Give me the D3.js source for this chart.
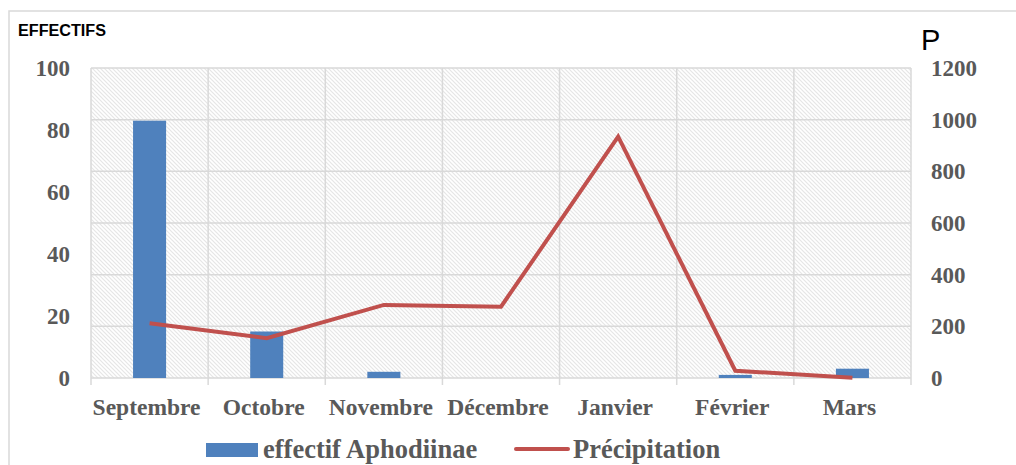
<!DOCTYPE html>
<html>
<head>
<meta charset="utf-8">
<script src="https://cdn.jsdelivr.net/npm/d3@7/dist/d3.min.js"></script>
<style>
  html, body { margin: 0; padding: 0; background: #fff; }
  svg { display: block; }
</style>
</head>
<body>
<script>
// Monthly counts of Aphodiinae and precipitation
const months = ["Septembre", "Octobre", "Novembre", "Décembre", "Janvier", "Février", "Mars"];
const effectif = [83, 15, 2, 0, 0, 1, 3];
const precipitation = [212, 154, 283, 276, 934, 28, 1];
const leftTicks = [0, 20, 40, 60, 80, 100];
const rightTicks = [0, 200, 400, 600, 800, 1000, 1200];

const W = 1016, H = 465;
const plot = { left: 91, right: 911, top: 68, bottom: 378 };

const svg = d3.select("body").append("svg").attr("width", W).attr("height", H);

// hatched plot background
const defs = svg.append("defs");
const pat = defs.append("pattern")
  .attr("id", "hatch").attr("patternUnits", "userSpaceOnUse")
  .attr("width", 4).attr("height", 4);
pat.append("rect").attr("width", 4).attr("height", 4).attr("fill", "#ffffff");
pat.append("path").attr("d", "M-1,-1 L5,5 M-1,3 L1,5 M3,-1 L5,1")
  .attr("stroke", "#e6e6e6").attr("stroke-width", 1.2);

// chart frame
svg.append("rect").attr("x", 9).attr("y", 11).attr("width", W).attr("height", H)
  .attr("fill", "none").attr("stroke", "#d9d9d9").attr("stroke-width", 1.5);

const x = d3.scaleBand().domain(months).range([plot.left, plot.right]).padding(0);
const yL = d3.scaleLinear().domain([0, 100]).range([plot.bottom, plot.top]);
const yR = d3.scaleLinear().domain([0, 1200]).range([plot.bottom, plot.top]);

svg.append("rect")
  .attr("x", plot.left).attr("y", plot.top)
  .attr("width", plot.right - plot.left).attr("height", plot.bottom - plot.top)
  .attr("fill", "url(#hatch)");

const gridColor = "#d9d9d9";
// horizontal gridlines follow the precipitation axis
svg.append("g").selectAll("line").data(rightTicks).join("line")
  .attr("x1", plot.left).attr("x2", plot.right)
  .attr("y1", d => yR(d)).attr("y2", d => yR(d))
  .attr("stroke", gridColor).attr("stroke-width", 1.5);

// vertical category separators with ticks below the axis
const bounds = months.map(m => x(m)).concat([plot.right]);
svg.append("g").selectAll("line").data(bounds).join("line")
  .attr("x1", d => d).attr("x2", d => d)
  .attr("y1", plot.top).attr("y2", plot.bottom + 7)
  .attr("stroke", gridColor).attr("stroke-width", 1.5);

// bars
const barW = x.bandwidth() * 0.282;
svg.append("g").selectAll("rect").data(effectif).join("rect")
  .attr("x", (d, i) => x(months[i]) + x.bandwidth() / 2 - barW / 2)
  .attr("y", d => yL(d))
  .attr("width", barW)
  .attr("height", d => plot.bottom - yL(d))
  .attr("fill", "#4F81BD");

// precipitation line
const line = d3.line()
  .x((d, i) => x(months[i]) + x.bandwidth() / 2)
  .y(d => yR(d));
svg.append("path").datum(precipitation)
  .attr("d", line)
  .attr("fill", "none").attr("stroke", "#C0504D")
  .attr("stroke-width", 4).attr("stroke-linejoin", "miter");

const tickFont = "'Liberation Serif', 'Times New Roman', serif";
const tickColor = "#595959";

// left axis labels
svg.append("g").selectAll("text").data(leftTicks).join("text")
  .attr("x", 70).attr("y", d => yL(d))
  .attr("dy", "0.35em").attr("text-anchor", "end")
  .attr("font-family", tickFont).attr("font-weight", "bold")
  .attr("font-size", 23).attr("fill", tickColor)
  .text(d => d);

// right axis labels
svg.append("g").selectAll("text").data(rightTicks).join("text")
  .attr("x", 931).attr("y", d => yR(d))
  .attr("dy", "0.35em").attr("text-anchor", "start")
  .attr("font-family", tickFont).attr("font-weight", "bold")
  .attr("font-size", 23).attr("fill", tickColor)
  .text(d => d);

// category labels
svg.append("g").selectAll("text").data(months).join("text")
  .attr("x", d => x(d) + x.bandwidth() / 2 - 3).attr("y", 415)
  .attr("text-anchor", "middle")
  .attr("font-family", tickFont).attr("font-weight", "bold")
  .attr("font-size", 23.5).attr("fill", tickColor)
  .text(d => d);

// axis titles
svg.append("text").attr("x", 18).attr("y", 36)
  .attr("font-family", "'Liberation Sans', Arial, sans-serif").attr("font-weight", "bold")
  .attr("font-size", 16).attr("textLength", 88).attr("lengthAdjust", "spacingAndGlyphs")
  .attr("fill", "#000").text("EFFECTIFS");
svg.append("text").attr("x", 921).attr("y", 50)
  .attr("font-family", "'Liberation Sans', Arial, sans-serif")
  .attr("font-size", 29).attr("fill", "#000").text("P");

// legend
const lg = svg.append("g");
lg.append("rect").attr("x", 206).attr("y", 443).attr("width", 52).attr("height", 14)
  .attr("fill", "#4F81BD");
lg.append("text").attr("x", 263).attr("y", 458)
  .attr("font-family", tickFont).attr("font-weight", "bold")
  .attr("font-size", 26.5).attr("fill", tickColor).text("effectif Aphodiinae");
lg.append("line").attr("x1", 516).attr("x2", 568).attr("y1", 449).attr("y2", 449)
  .attr("stroke", "#C0504D").attr("stroke-width", 4).attr("stroke-linecap", "round");
lg.append("text").attr("x", 573).attr("y", 458)
  .attr("font-family", tickFont).attr("font-weight", "bold")
  .attr("font-size", 26.5).attr("fill", tickColor).text("Précipitation");
</script>
</body>
</html>
